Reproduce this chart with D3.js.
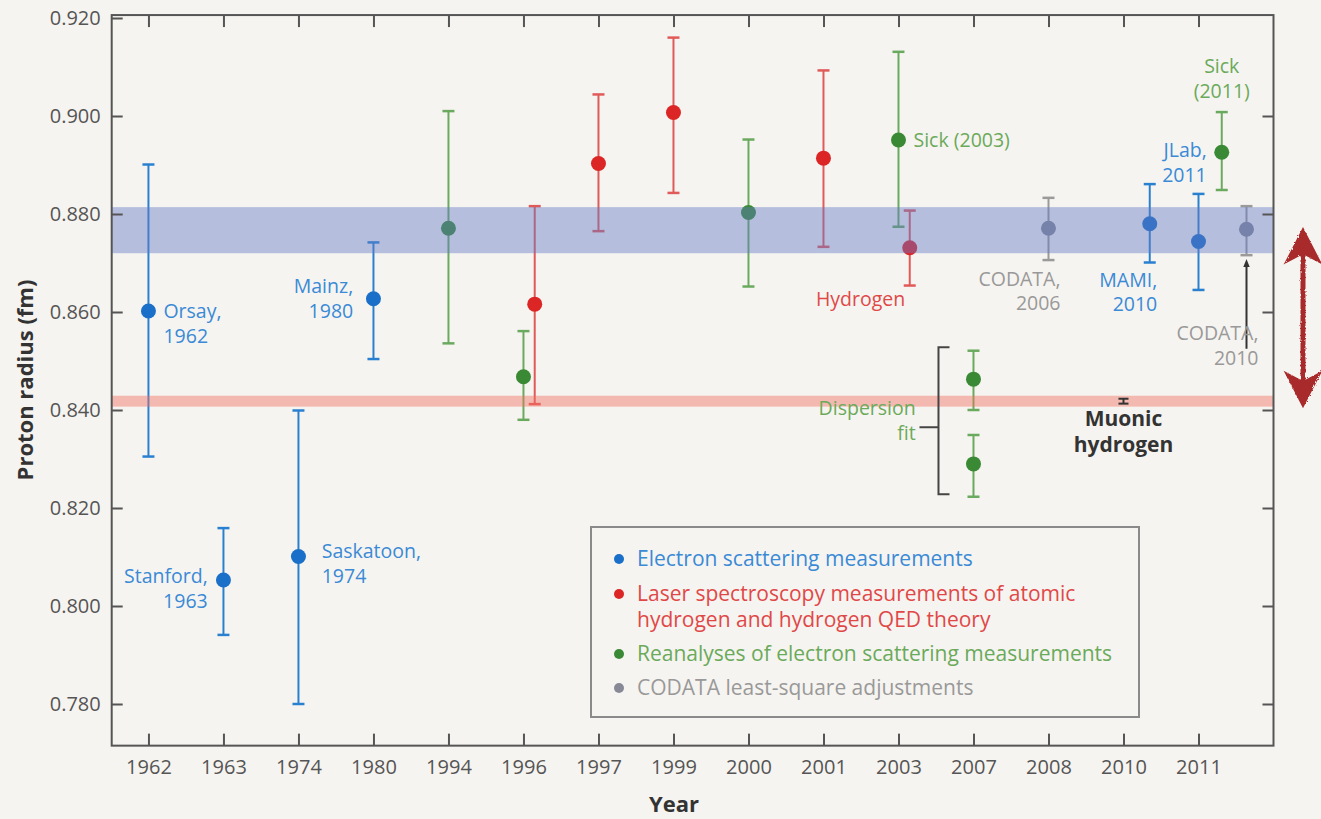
<!DOCTYPE html>
<html>
<head>
<meta charset="utf-8">
<script src="https://cdn.jsdelivr.net/npm/d3@7"></script>
<style>
  body { margin: 0; background: #f6f4f0; }
  svg { display: block; font-family: "Open Sans", sans-serif; }
</style>
</head>
<body>
<div id="mount"></div>
<script>
// category labels on the x axis (one per slot)
var yearLabels = ['1962', '1963', '1974', '1980', '1994', '1996', '1997', '1999',
                  '2000', '2001', '2003', '2007', '2008', '2010', '2011'];
var yTicks = [0.780, 0.800, 0.820, 0.840, 0.860, 0.880, 0.900, 0.920];

// electron scattering measurements (slot, radius, low, high)
var electronX  = [0, 1, 2, 3, 13.35, 14];
var electronR  = [0.8602, 0.8053, 0.8101, 0.8627, 0.8780, 0.8744];
var electronLo = [0.8305, 0.7941, 0.7800, 0.8504, 0.8701, 0.8645];
var electronHi = [0.8901, 0.8159, 0.8399, 0.8742, 0.8861, 0.8841];

// laser spectroscopy of atomic hydrogen
var laserX  = [5.15, 6, 7, 9, 10.15];
var laserR  = [0.8616, 0.8903, 0.9007, 0.8914, 0.8731];
var laserLo = [0.8412, 0.8765, 0.8843, 0.8733, 0.8654];
var laserHi = [0.8816, 0.9044, 0.9160, 0.9093, 0.8807];

// reanalyses of electron scattering
var reanX  = [4, 5, 8, 10, 11, 11, 14.31];
var reanR  = [0.8771, 0.8468, 0.8803, 0.8951, 0.8463, 0.8290, 0.8926];
var reanLo = [0.8536, 0.8380, 0.8652, 0.8774, 0.8400, 0.8223, 0.8849];
var reanHi = [0.9010, 0.8561, 0.8952, 0.9131, 0.8521, 0.8349, 0.9008];

// CODATA adjustments
var codataX  = [12, 14.64];
var codataR  = [0.8771, 0.8769];
var codataLo = [0.8706, 0.8716];
var codataHi = [0.8833, 0.8816];

// muonic hydrogen
var muonX = 13, muonLo = 0.8413, muonHi = 0.8423;

var codataBand = [0.8720, 0.8814];
var muonBand = [0.8413, 0.8423];

var legendItems = [
  ['Electron scattering measurements'],
  ['Laser spectroscopy measurements of atomic', 'hydrogen and hydrogen QED theory'],
  ['Reanalyses of electron scattering measurements'],
  ['CODATA least-square adjustments']
];

var annotations = [
  { lines: ['Orsay,', '1962'], x: 0.2, y: 0.8587, anchor: 'start', kind: 0 },
  { lines: ['Mainz,', '1980'], x: 2.73, y: 0.8638, anchor: 'end', kind: 0 },
  { lines: ['Stanford,', '1963'], x: 0.79, y: 0.8046, anchor: 'end', kind: 0 },
  { lines: ['Saskatoon,', '1974'], x: 2.31, y: 0.8097, anchor: 'start', kind: 0 },
  { lines: ['Hydrogen'], x: 8.9, y: 0.8613, anchor: 'start', kind: 1 },
  { lines: ['Sick (2003)'], x: 10.2, y: 0.8937, anchor: 'start', kind: 2 },
  { lines: ['CODATA,', '2006'], x: 12.16, y: 0.8654, anchor: 'end', kind: 3 },
  { lines: ['MAMI,', '2010'], x: 13.45, y: 0.8652, anchor: 'end', kind: 0 },
  { lines: ['JLab,', '2011'], x: 14.11, y: 0.8916, anchor: 'end', kind: 0 },
  { lines: ['Sick', '(2011)'], x: 14.31, y: 0.9087, anchor: 'middle', kind: 2 },
  { lines: ['CODATA,', '2010'], x: 14.8, y: 0.8542, anchor: 'end', kind: 3 },
  { lines: ['Dispersion', 'fit'], x: 10.23, y: 0.8389, anchor: 'end', kind: 2 }
];

var dotColor = ['#1a6fc8', '#dc2626', '#3a8a35', '#878a96'];
var barColor = ['#2a80d0', '#e05a5a', '#6aaa5e', '#9a9a9a'];
var textColor = ['#3a8ad6', '#e04848', '#6aaa5a', '#999999'];

var svg = d3.select('#mount').append('svg')
    .attr('width', 1321)
    .attr('height', 819);

svg.append('rect').attr('width', 1321).attr('height', 819).attr('fill', '#f6f4f0');

var x = d3.scaleLinear().domain([-0.49, 15]).range([111.7, 1273.5]);
var y = d3.scaleLinear().domain([0.780, 0.920]).range([704, 18]);
var yBottom = 0.7715, yTop = 0.9206;

// error bars + dots
function drawSeries(xs, rs, lo, hi, k) {
  var g = svg.append('g');
  var idx = d3.range(xs.length);
  g.selectAll('.bar').data(idx).enter().append('line')
      .attr('x1', i => x(xs[i])).attr('x2', i => x(xs[i]))
      .attr('y1', i => y(lo[i])).attr('y2', i => y(hi[i]))
      .attr('stroke', barColor[k]).attr('stroke-width', 2);
  [lo, hi].forEach(arr => {
    g.selectAll(null).data(idx).enter().append('line')
        .attr('x1', i => x(xs[i]) - 6).attr('x2', i => x(xs[i]) + 6)
        .attr('y1', i => y(arr[i])).attr('y2', i => y(arr[i]))
        .attr('stroke', barColor[k]).attr('stroke-width', 2.5);
  });
  g.selectAll('circle').data(idx).enter().append('circle')
      .attr('cx', i => x(xs[i])).attr('cy', i => y(rs[i]))
      .attr('r', 7.5).attr('fill', dotColor[k]);
}

drawSeries(electronX, electronR, electronLo, electronHi, 0);
drawSeries(laserX, laserR, laserLo, laserHi, 1);
drawSeries(reanX, reanR, reanLo, reanHi, 2);
drawSeries(codataX, codataR, codataLo, codataHi, 3);

// bands are laid over the points, semi transparent
svg.append('rect')
    .attr('x', x(-0.49)).attr('width', x(15) - x(-0.49))
    .attr('y', y(codataBand[1])).attr('height', y(codataBand[0]) - y(codataBand[1]))
    .attr('fill', 'rgb(100,120,195)').attr('fill-opacity', 0.44);
svg.append('rect')
    .attr('x', x(-0.49)).attr('width', x(15) - x(-0.49))
    .attr('y', y(muonBand[1]) - 3).attr('height', y(muonBand[0]) - y(muonBand[1]) + 6)
    .attr('fill', 'rgb(240,110,95)').attr('fill-opacity', 0.45);

// muonic hydrogen point
var mu = svg.append('g').attr('stroke', '#333').attr('stroke-width', 2);
mu.append('line').attr('x1', x(muonX)).attr('x2', x(muonX)).attr('y1', y(muonLo)).attr('y2', y(muonHi));
[muonLo, muonHi].forEach(v => {
  mu.append('line').attr('x1', x(muonX) - 5).attr('x2', x(muonX) + 5).attr('y1', y(v)).attr('y2', y(v));
});
['Muonic', 'hydrogen'].forEach((t, i) => {
  svg.append('text')
      .attr('x', x(muonX)).attr('y', y(0.8367) + i * 26)
      .attr('text-anchor', 'middle').attr('font-weight', 'bold').attr('font-size', 21)
      .attr('fill', '#333').text(t);
});

// bracket for the dispersion fits
var bx = x(11) - 35;
svg.append('path')
    .attr('d', `M${bx + 11},${y(0.8528)} H${bx} V${y(0.8228)} H${bx + 11} M${bx},${y(0.8365)} H${bx - 19}`)
    .attr('fill', 'none').attr('stroke', '#444').attr('stroke-width', 2);

// arrow pointing at CODATA 2010
svg.append('defs').append('marker')
    .attr('id', 'tip').attr('viewBox', '0 0 10 10').attr('refX', 5).attr('refY', 5)
    .attr('markerWidth', 4).attr('markerHeight', 5).attr('orient', 'auto')
  .append('path').attr('d', 'M0,1 L10,5 L0,9 Z').attr('fill', '#333');
svg.append('line')
    .attr('x1', x(14.64)).attr('x2', x(14.64))
    .attr('y1', y(0.8525)).attr('y2', y(0.8700))
    .attr('stroke', '#333').attr('stroke-width', 2)
    .attr('marker-end', 'url(#tip)');

// text annotations, one text per line
annotations.forEach(a => {
  a.lines.forEach((t, i) => {
    svg.append('text')
        .attr('x', x(a.x)).attr('y', y(a.y) + i * 24.5)
        .attr('text-anchor', a.anchor).attr('font-size', 19.5)
        .attr('fill', textColor[a.kind]).text(t);
  });
});

// legend
var lg = svg.append('g').attr('transform', 'translate(591,527)');
lg.append('rect').attr('width', 548).attr('height', 190)
    .attr('fill', '#f6f4f0').attr('stroke', '#8a8a8a').attr('stroke-width', 2);
var rowY = [32, 67, 93, 127, 161];
var row = 0;
legendItems.forEach((lines, k) => {
  lg.append('circle').attr('cx', 28).attr('cy', rowY[row]).attr('r', 5).attr('fill', dotColor[k]);
  lines.forEach(t => {
    lg.append('text').attr('x', 46).attr('y', rowY[row] + 7)
        .attr('font-size', 21).attr('fill', textColor[k]).text(t);
    row++;
  });
});

// frame and axes
svg.append('rect')
    .attr('x', x(-0.49)).attr('y', y(yTop))
    .attr('width', x(15) - x(-0.49)).attr('height', y(yBottom) - y(yTop))
    .attr('fill', 'none').attr('stroke', '#555').attr('stroke-width', 2);

var slots = d3.range(yearLabels.length);
var xAxis = d3.axisBottom(x).tickValues(slots).tickFormat(i => yearLabels[i])
    .tickSizeInner(-12).tickSizeOuter(0).tickPadding(14);
var xTopAxis = d3.axisTop(x).tickValues(slots).tickFormat('')
    .tickSizeInner(-12).tickSizeOuter(0);
var yAxis = d3.axisLeft(y).tickValues(yTicks).tickFormat(d3.format('.3f'))
    .tickSizeInner(-11).tickSizeOuter(0).tickPadding(11);
var yRightAxis = d3.axisRight(y).tickValues(yTicks.slice(0, 7)).tickFormat('')
    .tickSizeInner(-11).tickSizeOuter(0);

function styleAxis(g) {
  g.select('.domain').remove();
  g.selectAll('.tick line').attr('stroke', '#555').attr('stroke-width', 2);
  g.selectAll('.tick text').attr('fill', '#555').attr('font-size', 20)
      .attr('font-family', '"Open Sans", sans-serif');
}

svg.append('g').attr('transform', `translate(0,${y(yBottom)})`).call(xAxis).call(styleAxis);
svg.append('g').attr('transform', `translate(0,${y(yTop)})`).call(xTopAxis).call(styleAxis);
svg.append('g').attr('transform', `translate(${x(-0.49)},0)`).call(yAxis).call(styleAxis);
svg.append('g').attr('transform', `translate(${x(15)},0)`).call(yRightAxis).call(styleAxis);

svg.append('text')
    .attr('transform', 'translate(33,380) rotate(-90)')
    .attr('text-anchor', 'middle').attr('font-weight', 'bold').attr('font-size', 22)
    .attr('fill', '#333').text('Proton radius (fm)');
svg.append('text')
    .attr('x', 674).attr('y', 812)
    .attr('text-anchor', 'middle').attr('font-weight', 'bold').attr('font-size', 22)
    .attr('fill', '#333').text('Year');

// hand drawn red double arrow outside the plot
var filt = svg.select('defs').append('filter').attr('id', 'rough');
filt.append('feTurbulence').attr('type', 'fractalNoise').attr('baseFrequency', 0.6)
    .attr('numOctaves', 2).attr('result', 'noise');
filt.append('feDisplacementMap').attr('in', 'SourceGraphic').attr('in2', 'noise')
    .attr('scale', 3);
var ax = 1303, yA = y(0.8769), yB = y(0.8408);
var arr = svg.append('g').attr('filter', 'url(#rough)').attr('fill', '#a82a2a').attr('stroke', '#a82a2a');
arr.append('line').attr('x1', ax).attr('x2', ax).attr('y1', yA + 20).attr('y2', yB - 20)
    .attr('stroke-width', 5);
arr.append('path').attr('d', `M${ax},${yA} L${ax + 17},${yA + 33} L${ax},${yA + 24} L${ax - 17},${yA + 33} Z`)
    .attr('stroke-width', 2);
arr.append('path').attr('d', `M${ax},${yB} L${ax + 17},${yB - 33} L${ax},${yB - 24} L${ax - 17},${yB - 33} Z`)
    .attr('stroke-width', 2);
</script>
</body>
</html>
